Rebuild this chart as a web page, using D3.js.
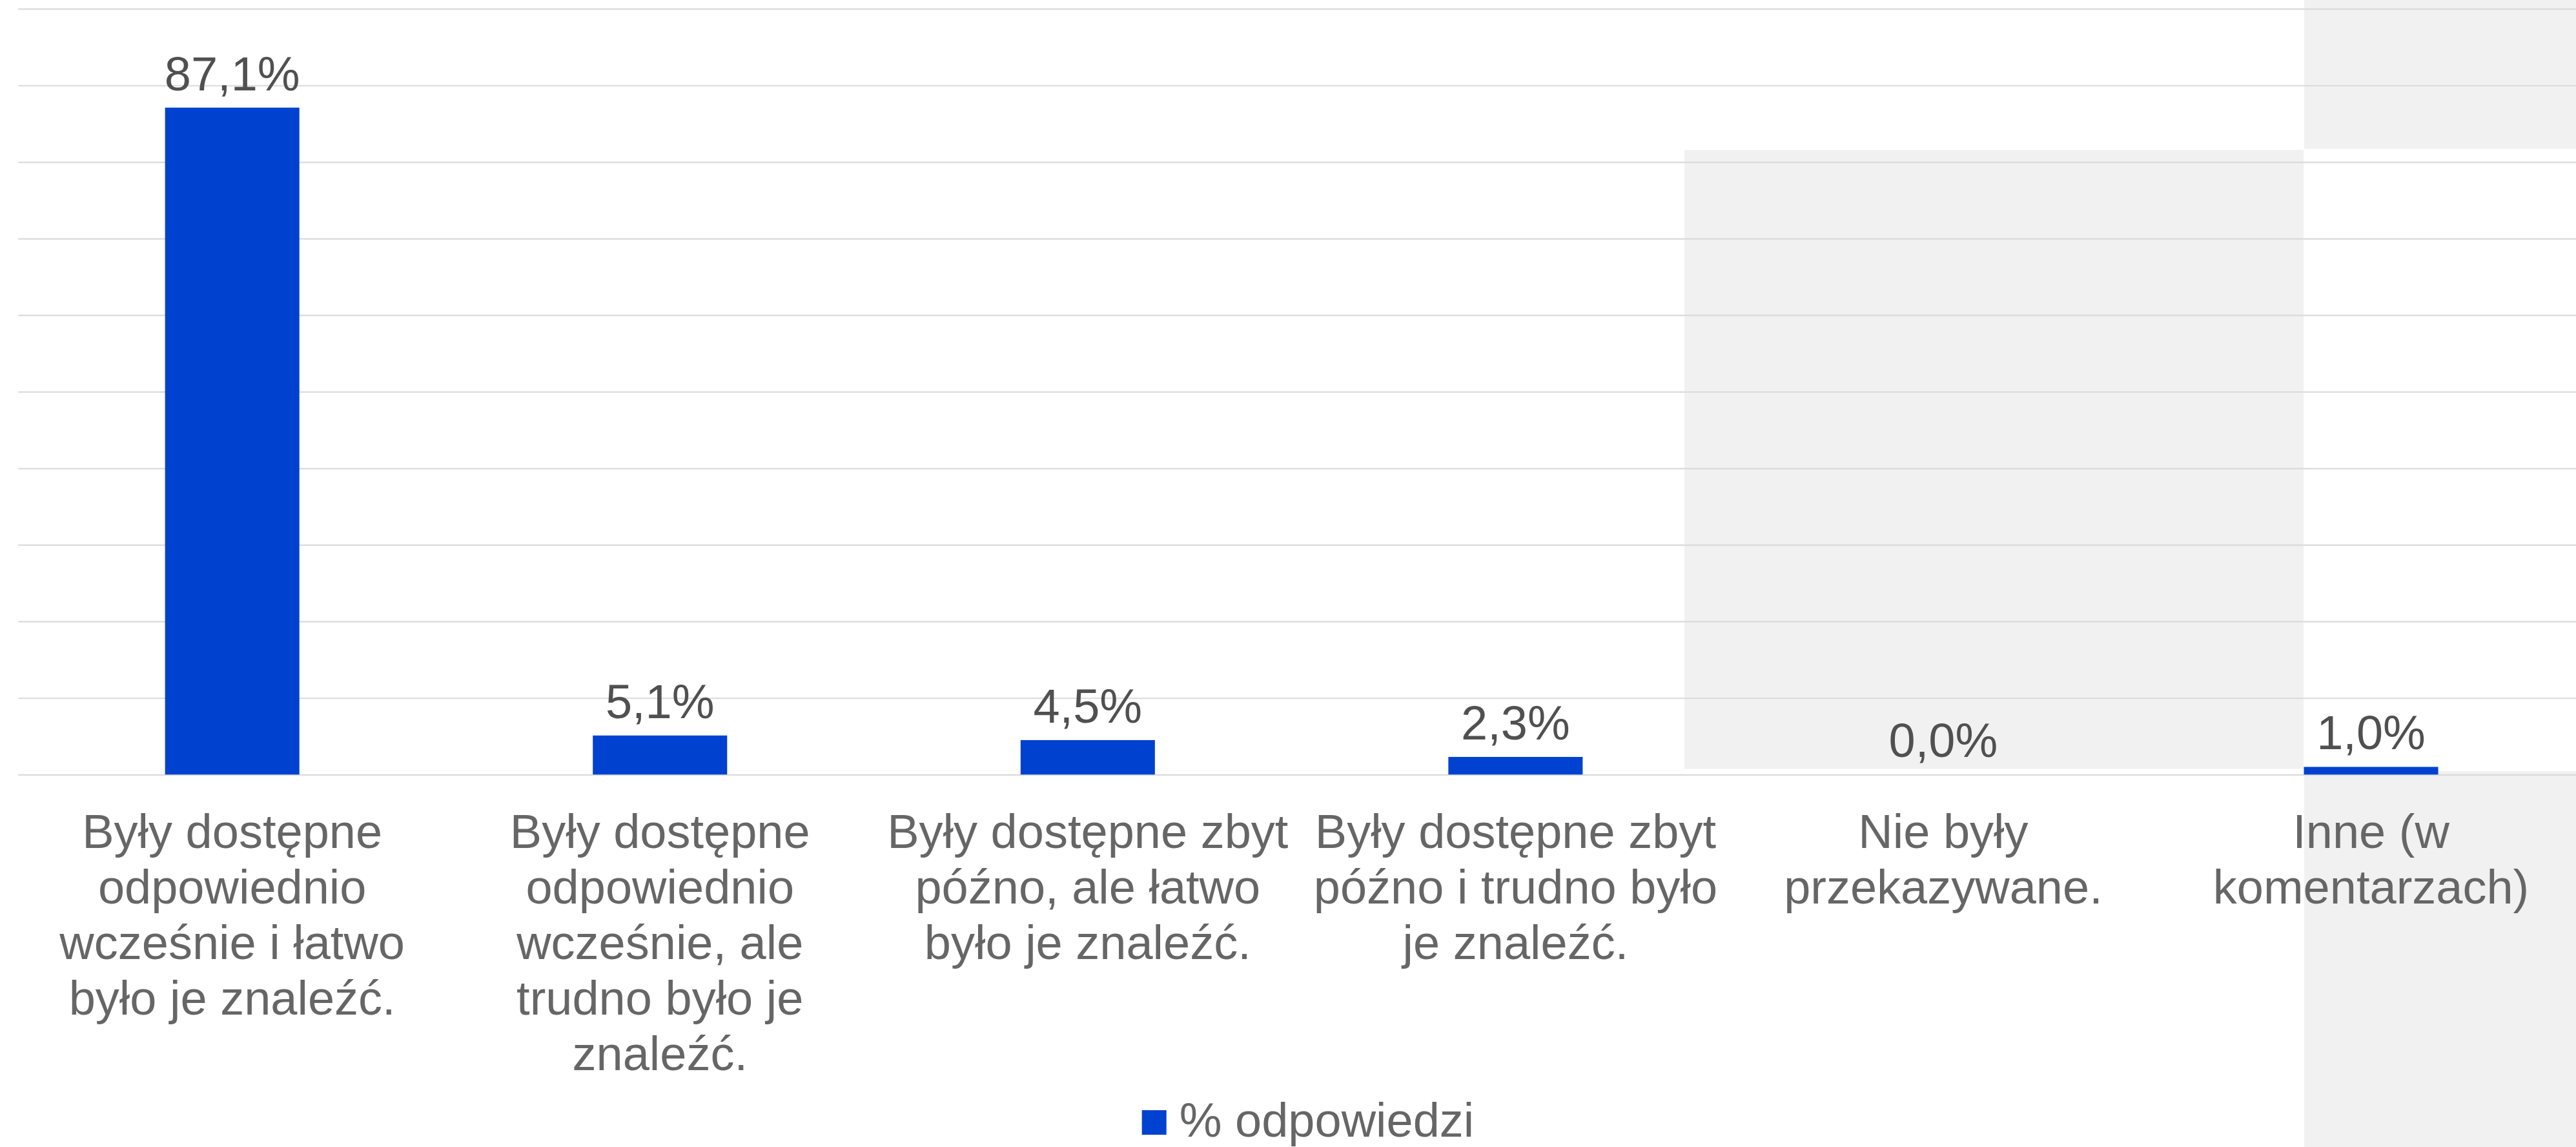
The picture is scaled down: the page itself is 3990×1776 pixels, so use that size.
<!DOCTYPE html>
<html lang="pl">
<head>
  <meta charset="UTF-8">
  <title>% odpowiedzi</title>
  <style>
    body { margin: 0; background: #fff; }
    svg { display: block; }
  </style>
</head>
<body>
  <div id="chart"></div>

  <script src="https://d3js.org/d3.v7.min.js"></script>
  <script>
    // data
    const categories = [
      'Były dostępne odpowiednio wcześnie i łatwo było je znaleźć.',
      'Były dostępne odpowiednio wcześnie, ale trudno było je znaleźć.',
      'Były dostępne zbyt późno, ale łatwo było je znaleźć.',
      'Były dostępne zbyt późno i trudno było je znaleźć.',
      'Nie były przekazywane.',
      'Inne (w komentarzach)'
    ];
    const values = [87.1, 5.1, 4.5, 2.3, 0.0, 1.0];
    const seriesName = '% odpowiedzi';
    const yTicks = [0, 10, 20, 30, 40, 50, 60, 70, 80, 90, 100];

    // layout
    const SVGWIDTH = 3990;
    const SVGHEIGHT = 1776;
    const plot = { left: 28.4, right: 4003.8, top: 13.7, bottom: 1199.3 };
    const FONT = '"Liberation Sans", Arial, sans-serif';
    const FONT_SIZE = 74;
    const LINE_HEIGHT = 86;
    const WRAP_WIDTH = 650;
    const BAR_COLOR = '#0042d0';
    const GRID_COLOR = '#dadada';
    const SHADE_COLOR = '#f1f1f1';
    // light grey panels that sit behind the chart in the original picture
    const shades = [
      { x: 2609, y: 232, w: 959, h: 958.5 },
      { x: 3569, y: 0, w: 421, h: 230.5 },
      { x: 3569, y: 1194, w: 421, h: 582 }
    ];

    const dataset = categories.map((c, i) => ({ key: c, value: values[i] }));

    const xScale = d3.scaleBand()
      .domain(categories)
      .range([plot.left, plot.right])
      .paddingInner(0.686)   // excel gap width ~219%
      .paddingOuter(0.343);

    const yScale = d3.scaleLinear()
      .domain([0, 100])
      .range([plot.bottom, plot.top]);

    const plLocale = d3.formatLocale({ decimal: ',', thousands: ' ', grouping: [3], currency: ['', ' zł'] });
    const fmt = plLocale.format('.1f');

    const svg = d3.select('#chart')
      .append('svg')
      .attr('width', SVGWIDTH)
      .attr('height', SVGHEIGHT)
      .attr('viewBox', `0 0 ${SVGWIDTH} ${SVGHEIGHT}`)
      .style('font-family', FONT);

    svg.append('g').attr('class', 'shades')
      .selectAll('rect')
      .data(shades)
      .join('rect')
      .attr('x', d => d.x)
      .attr('y', d => d.y)
      .attr('width', d => d.w)
      .attr('height', d => d.h)
      .attr('fill', SHADE_COLOR);

    // gridlines via a left axis with full-width ticks
    const grid = svg.append('g')
      .attr('class', 'grid')
      .attr('transform', `translate(${plot.left},0)`)
      .call(d3.axisLeft(yScale).tickValues(yTicks).tickSize(-(plot.right - plot.left)).tickFormat(''));
    grid.select('.domain').remove();
    grid.selectAll('.tick line')
      .attr('stroke', GRID_COLOR)
      .attr('stroke-width', 2.2);

    // bars
    svg.append('g').attr('class', 'bars')
      .selectAll('rect')
      .data(dataset)
      .join('rect')
      .attr('x', d => xScale(d.key))
      .attr('y', d => yScale(d.value))
      .attr('width', xScale.bandwidth())
      .attr('height', d => yScale(0) - yScale(d.value))
      .attr('fill', BAR_COLOR);

    // value labels
    svg.append('g').attr('class', 'labels')
      .selectAll('text')
      .data(dataset)
      .join('text')
      .attr('x', d => xScale(d.key) + xScale.bandwidth() / 2)
      .attr('y', d => yScale(d.value) - 27)
      .attr('text-anchor', 'middle')
      .attr('font-size', FONT_SIZE)
      .attr('fill', '#505050')
      .text(d => fmt(d.value) + '%');

    // category axis
    const xAxis = svg.append('g')
      .attr('class', 'xAxis')
      .attr('transform', `translate(0,${plot.bottom})`)
      .call(d3.axisBottom(xScale).tickSize(0));
    xAxis.select('.domain').remove();
    xAxis.attr('font-family', FONT).attr('font-size', FONT_SIZE);
    xAxis.selectAll('.tick text')
      .attr('fill', '#666666')
      .attr('y', 114)
      .attr('dy', 0)
      .call(wrap, WRAP_WIDTH);

    // legend
    const legend = svg.append('g').attr('class', 'legend');
    const legendText = legend.append('text')
      .attr('font-size', FONT_SIZE)
      .attr('fill', '#666666')
      .attr('y', 1760)
      .text(seriesName);
    const textW = legendText.node().getComputedTextLength();
    const SWATCH = 38, GAP = 20, LEGEND_CX = 2026;
    const legendX = LEGEND_CX - (SWATCH + GAP + textW) / 2;
    legend.append('rect')
      .attr('x', legendX)
      .attr('y', 1719)
      .attr('width', SWATCH)
      .attr('height', SWATCH)
      .attr('fill', BAR_COLOR);
    legendText.attr('x', legendX + SWATCH + GAP);

    // helper: greedy word wrap into tspans
    function wrap(texts, width) {
      texts.each(function () {
        const text = d3.select(this);
        const words = text.text().split(/\s+/);
        text.text(null);
        let line = [];
        let tspan = text.append('tspan').attr('x', 0).attr('dy', 0);
        words.forEach(w => {
          line.push(w);
          tspan.text(line.join(' '));
          if (tspan.node().getComputedTextLength() > width && line.length > 1) {
            line.pop();
            tspan.text(line.join(' '));
            line = [w];
            tspan = text.append('tspan').attr('x', 0).attr('dy', LINE_HEIGHT).text(w);
          }
        });
      });
    }
  </script>
</body>
</html>
